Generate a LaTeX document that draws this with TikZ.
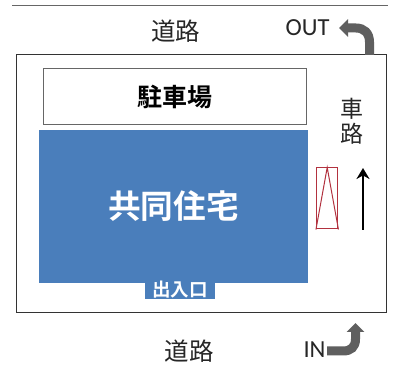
\documentclass[tikz,border=0pt]{standalone}
\usepackage{fontspec}
\setmainfont{Carlito}
\newfontfamily\cjk{Noto Sans CJK JP}
\newfontfamily\cjkb{Noto Sans CJK JP Bold}
\usetikzlibrary{arrows.meta}
\definecolor{bluefill}{HTML}{4A7EBB}
\definecolor{redline}{HTML}{B2323F}
\definecolor{grayarrow}{HTML}{5F5F5F}
\tikzset{
  road/.style={font=\cjk\fontsize{24.5}{25}\selectfont,text=black!85,inner sep=0pt},
  latin/.style={font=\fontsize{24.5}{25}\selectfont,text=black!85,inner sep=0pt},
  grayturn/.style={draw=grayarrow,line width=9pt,-{Triangle[length=9pt,width=17pt]}},
  box/.style={draw=black!60,line width=1pt}
}
\begin{document}
\begin{tikzpicture}[x=1pt,y=-1pt]
\useasboundingbox (0,0) rectangle (397,374);
\fill[white] (0,0) rectangle (397,374);
\coordinate (topL) at (12,6);
\coordinate (topR) at (388,6);
\draw[black!60,line width=1pt] (topL) -- (topR);
\node[draw=black!80,line width=1pt,minimum width=370pt,minimum height=258pt,inner sep=0pt] (site) at (201.2,184) {};
\node[box,fill=white,minimum width=263pt,minimum height=56pt,inner sep=0pt,font=\cjkb\fontsize{25}{25}\selectfont] (park) at (174.5,97) {駐車場};
\node[fill=bluefill,minimum width=269pt,minimum height=153pt,inner sep=0pt,text=white,font=\cjkb\fontsize{32.7}{33}\selectfont] (bldg) at (173.5,206.5) {共同住宅};
\node[fill=bluefill,minimum width=70pt,minimum height=16pt,inner sep=0pt,text=white,font=\cjkb\fontsize{18.5}{18.5}\selectfont] (door) at (180,290) {出入口};
\node[road] (roadT) at (175.5,31) {道路};
\node[road] (roadB) at (189,351) {道路};
\node[font=\cjk\fontsize{23}{25.5}\selectfont,text=black!85,inner sep=0pt,align=center] (lane) at (352,121.5) {車\\路};
\node[latin] (out) at (307.5,28) {OUT};
\node[latin] (in) at (314.5,349.5) {IN};
\node[draw=redline,line width=1pt,minimum width=21.5pt,minimum height=61pt,inner sep=0pt] (slot) at (327.2,198.5) {};
\draw[redline,line width=1pt] (slot.south west) -- (slot.north) -- (slot.south east);
\coordinate (upS) at (363,230);
\coordinate (upE) at (363,168);
\draw[black,line width=2.2pt,-{Stealth[length=11pt,width=13pt]}] (upS) -- (upE);
\coordinate (outS) at (369.5,55);
\coordinate (outE) at (339,28);
\draw[grayturn] (outS) -- (369.5,42) .. controls (369.5,33) and (364,28) .. (356,28) -- (outE);
\coordinate (inS) at (327,351);
\coordinate (inE) at (355.5,323);
\draw[grayturn] (inS) -- (343,351) .. controls (351,351) and (355.5,347) .. (355.5,339) -- (inE);
\end{tikzpicture}
\end{document}
